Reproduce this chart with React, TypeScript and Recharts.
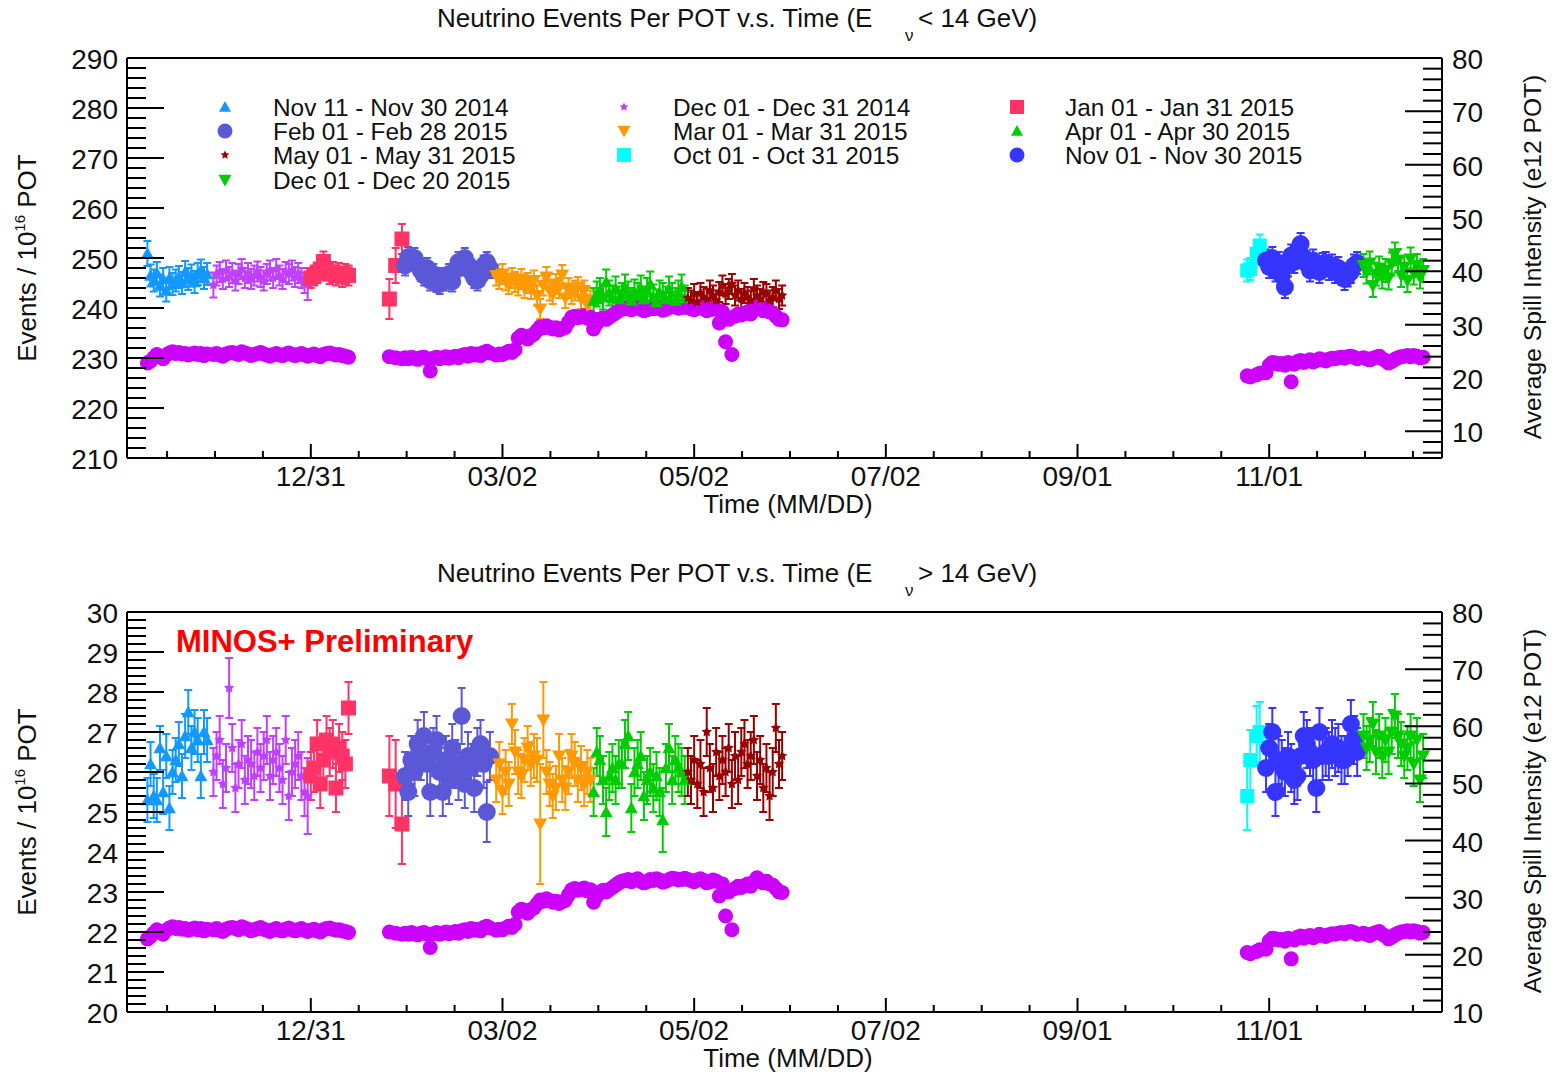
import React from "react";
import { ScatterChart, Scatter, XAxis, YAxis, ErrorBar, ReferenceLine } from "recharts";

// rows: [day since 12/31/2014, events E<14, err, events E>14, err, spill intensity]
type Row = [number, number, number, number, number, number];

const NOV14: Row[] = [
  [-52, 250.9, 2.5, 25.3, 0.55, 22.8],
  [-51, 246.5, 2.2, 26.2, 0.55, 23.2],
  [-50, 245.5, 2.2, 25.4, 0.55, 23.8],
  [-49, 247.0, 2.2, 25.3, 0.55, 24.4],
  [-48, 244.5, 2.2, 26.6, 0.55, 24.1],
  [-47, 245.8, 2.2, 25.5, 0.55, 23.6],
  [-46, 243.5, 2.2, 26.4, 0.55, 24.3],
  [-45, 246.0, 2.2, 25.1, 0.55, 24.7],
  [-44, 244.8, 2.2, 26.0, 0.55, 24.9],
  [-43, 245.5, 2.2, 26.3, 0.55, 24.6],
  [-42, 246.2, 2.2, 26.7, 0.55, 24.8],
  [-41, 245.0, 2.2, 25.9, 0.55, 24.5],
  [-40, 247.2, 2.2, 26.9, 0.55, 24.6],
  [-39, 245.8, 2.2, 27.5, 0.55, 24.3],
  [-38, 246.5, 2.2, 26.6, 0.55, 24.5],
  [-37, 245.2, 2.2, 27.0, 0.55, 24.7],
  [-36, 246.8, 2.2, 26.8, 0.55, 24.4],
  [-35, 247.5, 2.2, 25.9, 0.55, 24.6],
  [-34, 246.0, 2.2, 27.0, 0.55, 24.2],
  [-33, 246.8, 2.2, 26.8, 0.55, 24.5],
];

const DEC14: Row[] = [
  [-31, 244.6, 2.5, 26.0, 0.6, 24.4],
  [-30, 246.5, 2.0, 26.4, 0.6, 24.6],
  [-29, 247.2, 2.0, 26.8, 0.6, 24.3],
  [-28, 245.8, 2.0, 25.7, 0.6, 24.1],
  [-27, 247.5, 2.0, 26.1, 0.6, 24.5],
  [-26, 246.2, 2.0, 28.1, 0.75, 24.7],
  [-25, 247.0, 2.0, 26.6, 0.6, 24.8],
  [-24, 245.5, 2.0, 25.6, 0.6, 24.6],
  [-23, 246.8, 2.0, 26.2, 0.6, 24.4],
  [-22, 247.8, 2.0, 26.7, 0.6, 24.9],
  [-21, 246.0, 2.0, 25.8, 0.6, 24.7],
  [-20, 247.0, 2.0, 26.3, 0.6, 24.5],
  [-19, 245.8, 2.0, 26.2, 0.6, 24.2],
  [-18, 246.5, 2.0, 25.9, 0.6, 24.4],
  [-17, 247.3, 2.0, 26.5, 0.6, 24.6],
  [-16, 246.2, 2.0, 26.1, 0.6, 24.8],
  [-15, 245.5, 2.0, 26.4, 0.6, 24.5],
  [-14, 246.8, 2.0, 26.8, 0.6, 24.3],
  [-13, 247.5, 2.0, 25.9, 0.6, 24.1],
  [-12, 246.0, 2.0, 26.3, 0.6, 24.4],
  [-11, 247.8, 2.0, 26.5, 0.6, 24.6],
  [-10, 246.5, 2.0, 26.1, 0.6, 24.3],
  [-9, 245.8, 2.0, 25.8, 0.6, 24.2],
  [-8, 247.2, 2.0, 26.8, 0.6, 24.5],
  [-7, 246.8, 2.0, 25.4, 0.6, 24.7],
  [-6, 247.5, 2.0, 26.0, 0.6, 24.4],
  [-5, 246.2, 2.0, 26.2, 0.6, 24.2],
  [-4, 247.0, 2.0, 26.4, 0.6, 24.4],
  [-3, 246.0, 2.0, 25.9, 0.6, 24.6],
  [-2, 245.0, 2.0, 25.5, 0.6, 24.3],
  [-1, 244.8, 3.2, 25.4, 0.95, 24.1],
];

const JAN15: Row[] = [
  [0, 246.0, 2.0, 25.9, 0.6, 24.3],
  [1, 246.5, 2.0, 26.1, 0.6, 24.5],
  [2, 247.0, 2.0, 26.7, 0.6, 24.2],
  [3, 247.8, 2.0, 25.7, 0.6, 24.0],
  [4, 249.3, 2.0, 26.3, 0.6, 24.4],
  [5, 247.5, 2.0, 26.8, 0.6, 24.6],
  [6, 246.8, 2.0, 26.5, 0.6, 24.7],
  [7, 247.2, 2.0, 26.7, 0.6, 24.5],
  [8, 246.5, 2.0, 25.6, 0.6, 24.3],
  [9, 247.0, 2.0, 26.6, 0.6, 24.4],
  [10, 246.2, 2.0, 26.4, 0.6, 24.2],
  [11, 246.8, 2.0, 26.2, 0.6, 24.1],
  [12, 246.5, 2.0, 27.6, 0.65, 23.9],
  [25, 241.8, 4.0, 25.9, 1.0, 24.0],
  [27, 248.5, 3.5, 25.7, 1.1, 23.8],
  [29, 253.8, 3.0, 24.7, 1.0, 23.6],
];

const FEB15: Row[] = [
  [30, 248.5, 2.0, 25.9, 0.6, 23.8],
  [31, 250.2, 2.0, 25.5, 0.6, 23.6],
  [32, 249.5, 2.0, 26.3, 0.6, 23.9],
  [33, 250.0, 2.0, 26.0, 0.6, 23.7],
  [34, 248.8, 2.0, 26.7, 0.6, 23.5],
  [35, 247.5, 2.0, 26.4, 0.6, 23.8],
  [36, 246.5, 2.0, 26.9, 0.6, 23.9],
  [37, 248.0, 2.0, 26.2, 0.6, 23.6],
  [38, 245.5, 2.0, 25.5, 0.6, 21.3],
  [39, 246.8, 2.0, 26.5, 0.6, 23.7],
  [40, 245.2, 2.0, 26.8, 0.6, 23.9],
  [41, 244.8, 2.0, 26.0, 0.6, 23.6],
  [42, 246.0, 2.0, 25.5, 0.6, 23.8],
  [43, 245.5, 2.0, 26.3, 0.6, 24.0],
  [44, 246.8, 2.0, 25.8, 0.6, 23.7],
  [45, 245.3, 2.0, 26.6, 0.6, 23.9],
  [46, 247.5, 2.0, 26.2, 0.6, 24.1],
  [47, 249.2, 2.0, 25.9, 0.6, 23.8],
  [48, 248.5, 2.0, 27.4, 0.7, 24.2],
  [49, 250.0, 2.0, 25.7, 0.6, 24.4],
  [50, 248.7, 2.0, 26.4, 0.6, 24.1],
  [51, 247.2, 2.0, 26.1, 0.6, 24.6],
  [52, 246.0, 2.0, 25.6, 0.6, 24.3],
  [53, 245.5, 2.0, 26.5, 0.6, 24.5],
  [54, 246.5, 2.0, 26.7, 0.6, 24.2],
  [55, 248.5, 2.0, 26.2, 0.6, 24.8],
  [56, 249.2, 2.0, 25.0, 0.75, 25.0],
  [57, 248.0, 2.0, 26.4, 0.6, 24.7],
];

const MAR15: Row[] = [
  [59, 246.5, 2.0, 25.8, 0.55, 24.3],
  [60, 245.8, 2.0, 26.2, 0.55, 24.5],
  [61, 246.8, 2.0, 25.5, 0.55, 24.4],
  [62, 245.5, 2.0, 26.0, 0.55, 24.7],
  [63, 244.8, 2.0, 25.7, 0.55, 25.0],
  [64, 246.0, 2.0, 27.2, 0.5, 24.8],
  [65, 245.2, 2.0, 26.5, 0.55, 25.3],
  [66, 244.5, 2.0, 26.0, 0.55, 27.5],
  [67, 245.8, 2.0, 25.9, 0.55, 28.0],
  [68, 244.0, 2.0, 26.3, 0.55, 27.8],
  [69, 245.0, 2.0, 26.6, 0.55, 27.3],
  [70, 243.8, 2.0, 26.2, 0.55, 27.9],
  [71, 245.5, 2.0, 26.4, 0.55, 28.2],
  [72, 242.5, 2.0, 26.3, 0.55, 28.9],
  [73, 239.8, 2.0, 24.7, 1.5, 29.6],
  [74, 244.5, 2.0, 27.3, 0.95, 29.4],
  [75, 246.2, 2.0, 26.0, 0.55, 29.8],
  [76, 243.5, 2.0, 25.7, 0.55, 29.5],
  [77, 242.8, 2.0, 25.4, 0.55, 29.2],
  [78, 244.8, 2.0, 25.6, 0.55, 29.4],
  [79, 244.0, 2.0, 26.4, 0.55, 29.0],
  [80, 246.6, 2.0, 25.8, 0.55, 29.3],
  [81, 242.0, 2.0, 25.6, 0.55, 29.5],
  [82, 244.0, 2.0, 26.0, 0.55, 30.5],
  [83, 242.8, 2.0, 26.4, 0.55, 31.4],
  [84, 243.5, 2.0, 26.2, 0.55, 31.6],
  [85, 244.2, 2.0, 25.8, 0.55, 31.3],
  [86, 241.8, 2.0, 26.1, 0.55, 31.5],
  [87, 243.5, 2.0, 25.7, 0.55, 31.7],
  [88, 240.6, 2.0, 26.0, 0.55, 31.2],
  [89, 241.5, 2.0, 25.8, 0.55, 31.4],
];

const APR15: Row[] = [
  [90, 241.5, 2.5, 25.5, 0.6, 29.2],
  [91, 242.8, 2.5, 26.5, 0.6, 30.2],
  [92, 243.5, 2.5, 26.3, 0.6, 31.0],
  [93, 242.2, 2.5, 25.8, 0.6, 31.3],
  [94, 245.2, 2.5, 25.0, 0.6, 31.0],
  [95, 243.0, 2.5, 25.9, 0.6, 31.4],
  [96, 242.0, 2.5, 26.1, 0.6, 31.8],
  [97, 243.8, 2.5, 25.8, 0.6, 32.2],
  [98, 241.8, 2.5, 26.2, 0.6, 32.6],
  [99, 242.5, 2.5, 26.2, 0.6, 32.9],
  [100, 244.2, 2.5, 26.7, 0.6, 33.0],
  [101, 242.8, 2.5, 26.9, 0.6, 33.2],
  [102, 241.5, 2.5, 25.1, 0.6, 32.8],
  [103, 243.2, 2.5, 26.0, 0.6, 33.1],
  [104, 242.5, 2.5, 26.2, 0.6, 33.3],
  [105, 244.0, 2.5, 26.4, 0.6, 32.9],
  [106, 241.8, 2.5, 25.4, 0.6, 32.6],
  [107, 243.5, 2.5, 25.8, 0.6, 32.8],
  [108, 244.8, 2.5, 26.0, 0.6, 33.2],
  [109, 242.2, 2.5, 25.6, 0.6, 33.0],
  [110, 241.2, 2.5, 25.9, 0.6, 33.3],
  [111, 243.0, 2.5, 25.5, 0.6, 33.1],
  [112, 242.5, 2.5, 24.8, 0.8, 32.7],
  [113, 241.8, 2.5, 26.1, 0.6, 32.9],
  [114, 243.8, 2.5, 26.6, 0.6, 33.2],
  [115, 242.5, 2.5, 25.8, 0.6, 33.4],
  [116, 241.5, 2.5, 26.3, 0.6, 33.3],
  [117, 243.0, 2.5, 26.1, 0.6, 33.1],
  [118, 244.2, 2.5, 26.0, 0.6, 33.2],
  [119, 242.0, 2.5, 25.8, 0.6, 33.4],
];

const MAY15: Row[] = [
  [120, 242.0, 2.0, 26.0, 0.6, 33.2],
  [121, 241.5, 2.0, 25.8, 0.6, 33.0],
  [122, 242.8, 2.0, 26.3, 0.6, 32.8],
  [123, 241.2, 2.0, 25.7, 0.6, 33.1],
  [124, 243.0, 2.0, 26.2, 0.6, 33.3],
  [125, 242.2, 2.0, 25.5, 0.6, 33.0],
  [126, 241.8, 2.0, 27.0, 0.6, 32.6],
  [127, 243.5, 2.0, 26.1, 0.6, 32.8],
  [128, 242.5, 2.0, 25.6, 0.6, 33.1],
  [129, 241.5, 2.0, 26.5, 0.6, 32.9],
  [130, 243.2, 2.0, 25.9, 0.6, 30.3],
  [131, 244.5, 2.0, 26.3, 0.6, 32.4],
  [132, 242.8, 2.0, 26.0, 0.6, 26.8],
  [133, 243.8, 2.0, 26.6, 0.6, 31.0],
  [134, 244.8, 2.0, 25.7, 0.6, 24.4],
  [135, 242.5, 2.0, 26.4, 0.6, 31.6],
  [136, 243.5, 2.0, 25.8, 0.6, 32.0],
  [137, 241.8, 2.0, 26.5, 0.6, 31.8],
  [138, 243.0, 2.0, 26.7, 0.6, 32.1],
  [139, 242.2, 2.0, 26.2, 0.6, 32.4],
  [140, 241.5, 2.0, 26.4, 0.6, 32.0],
  [141, 243.8, 2.0, 26.8, 0.6, 32.8],
  [142, 242.5, 2.0, 25.9, 0.6, 33.5],
  [143, 241.8, 2.0, 26.3, 0.6, 33.0],
  [144, 243.2, 2.0, 25.6, 0.6, 32.6],
  [145, 242.8, 2.0, 26.1, 0.6, 32.9],
  [146, 241.5, 2.0, 25.4, 0.6, 32.4],
  [147, 242.2, 2.0, 26.0, 0.6, 32.2],
  [148, 243.5, 2.0, 27.1, 0.6, 31.6],
  [149, 241.8, 2.0, 26.2, 0.6, 31.0],
  [150, 242.5, 2.0, 26.4, 0.6, 30.9],
];

const OCT15: Row[] = [
  [298, 247.5, 2.2, 25.4, 0.85, 20.4],
  [299, 247.8, 2.2, 26.3, 0.75, 20.2],
  [301, 250.8, 2.2, 26.9, 0.75, 20.6],
  [302, 252.5, 2.2, 27.0, 0.75, 20.9],
];

const NOV15: Row[] = [
  [304, 249.5, 2.2, 26.1, 0.6, 21.0],
  [305, 248.2, 2.2, 26.6, 0.6, 22.4],
  [306, 250.0, 2.2, 27.0, 0.6, 22.9],
  [307, 247.5, 2.2, 25.5, 0.6, 22.8],
  [308, 249.0, 2.2, 26.3, 0.6, 22.6],
  [309, 246.5, 2.2, 26.2, 0.6, 22.7],
  [310, 244.2, 2.2, 26.0, 0.6, 22.4],
  [311, 248.5, 2.2, 26.4, 0.6, 22.9],
  [312, 250.5, 2.2, 26.1, 0.6, 19.3],
  [313, 249.2, 2.2, 25.8, 0.6, 22.6],
  [314, 251.5, 2.2, 25.9, 0.6, 23.1],
  [315, 252.8, 2.2, 26.4, 0.6, 23.3],
  [316, 250.2, 2.2, 26.9, 0.6, 22.9],
  [317, 248.8, 2.2, 26.7, 0.6, 23.2],
  [318, 247.5, 2.2, 26.5, 0.6, 23.4],
  [319, 249.5, 2.2, 26.3, 0.6, 23.0],
  [320, 248.2, 2.2, 25.6, 0.6, 23.3],
  [321, 247.2, 2.2, 27.0, 0.6, 23.6],
  [322, 248.8, 2.2, 26.4, 0.6, 23.4],
  [323, 249.0, 2.2, 26.5, 0.6, 23.2],
  [324, 247.8, 2.2, 26.4, 0.6, 23.5],
  [325, 248.5, 2.2, 26.7, 0.6, 23.7],
  [326, 247.2, 2.2, 26.5, 0.6, 23.6],
  [327, 248.0, 2.2, 26.6, 0.6, 23.8],
  [328, 246.8, 2.2, 26.3, 0.6, 23.9],
  [329, 245.8, 2.2, 26.3, 0.6, 23.7],
  [330, 246.5, 2.2, 26.5, 0.6, 24.0],
  [331, 247.2, 2.2, 27.2, 0.6, 24.1],
  [332, 248.5, 2.2, 26.8, 0.6, 23.9],
  [333, 249.0, 2.2, 26.5, 0.6, 23.6],
];

const DEC15: Row[] = [
  [335, 248.5, 2.3, 26.9, 0.55, 23.8],
  [336, 247.2, 2.3, 26.6, 0.55, 23.6],
  [337, 249.0, 2.3, 26.8, 0.55, 23.4],
  [338, 244.5, 2.3, 27.2, 0.55, 23.7],
  [339, 246.8, 2.3, 26.5, 0.55, 23.9],
  [340, 248.0, 2.3, 26.9, 0.55, 24.1],
  [341, 246.2, 2.3, 26.4, 0.55, 23.6],
  [342, 247.5, 2.3, 26.8, 0.55, 23.3],
  [343, 246.0, 2.3, 26.5, 0.55, 22.8],
  [344, 248.8, 2.3, 27.0, 0.55, 23.1],
  [345, 250.8, 2.3, 27.4, 0.55, 23.5],
  [346, 249.5, 2.3, 26.9, 0.55, 23.8],
  [347, 246.5, 2.3, 26.7, 0.55, 24.0],
  [348, 248.2, 2.3, 26.4, 0.55, 24.1],
  [349, 245.5, 2.3, 26.6, 0.55, 24.2],
  [350, 249.8, 2.3, 26.9, 0.55, 24.0],
  [351, 247.0, 2.3, 26.2, 0.55, 24.2],
  [352, 248.5, 2.3, 26.8, 0.55, 24.1],
  [353, 246.2, 2.3, 25.8, 0.55, 23.8],
  [354, 247.5, 2.3, 26.4, 0.55, 23.9],
];

const X_MAJOR = [0, 61, 122, 183, 244, 305];
const X_LABELS = ["12/31", "03/02", "05/02", "07/02", "09/01", "11/01"];
const X_DOMAIN: [number, number] = [-58.5, 360];

const LOW_LEFT_MAJOR = [210, 220, 230, 240, 250, 260, 270, 280, 290];
const LOW_RIGHT_MAJOR = [10, 20, 30, 40, 50, 60, 70, 80];
const HIGH_LEFT_MAJOR = [20, 21, 22, 23, 24, 25, 26, 27, 28, 29, 30];
const HIGH_RIGHT_MAJOR = [10, 20, 30, 40, 50, 60, 70, 80];

const FONT = "'Liberation Sans', Arial, Helvetica, sans-serif";
const INK = "#111";
const PLOT_LEFT = 127;
const PLOT_RIGHT = 1442;
const PLOT_TOP = 58;
const PLOT_BOTTOM = 458;
const SPILL_COLOR = "#cc00ff";

type Kind = "tri" | "triDown" | "circle" | "square" | "star";

const LEGEND_SIZE: Record<Kind, number> = { tri: 12, triDown: 13, circle: 15, square: 14, star: 9 };

const SERIES: { name: string; rows: Row[]; color: string; kind: Kind; size: number }[] = [
  { name: "Nov 11 - Nov 30 2014", rows: NOV14, color: "#1199ff", kind: "tri", size: 13 },
  { name: "Dec 01 - Dec 31 2014", rows: DEC14, color: "#c040ff", kind: "star", size: 11 },
  { name: "Jan 01 - Jan 31 2015", rows: JAN15, color: "#ff3366", kind: "square", size: 15 },
  { name: "Feb 01 - Feb 28 2015", rows: FEB15, color: "#5b58d8", kind: "circle", size: 18 },
  { name: "Mar 01 - Mar 31 2015", rows: MAR15, color: "#ff9900", kind: "triDown", size: 14 },
  { name: "Apr 01 - Apr 30 2015", rows: APR15, color: "#00cc00", kind: "tri", size: 13 },
  { name: "May 01 - May 31 2015", rows: MAY15, color: "#990000", kind: "star", size: 11 },
  { name: "Oct 01 - Oct 31 2015", rows: OCT15, color: "#00ffff", kind: "square", size: 14 },
  { name: "Nov 01 - Nov 30 2015", rows: NOV15, color: "#3535ff", kind: "circle", size: 18 },
  { name: "Dec 01 - Dec 20 2015", rows: DEC15, color: "#00cc00", kind: "triDown", size: 14 },
];

function Marker({ kind, cx, cy, size, color }: { kind: Kind; cx: number; cy: number; size: number; color: string }) {
  const h = size / 2;
  if (kind === "circle") return <circle cx={cx} cy={cy} r={h} fill={color} />;
  if (kind === "square") return <rect x={cx - h} y={cy - h} width={size} height={size} fill={color} />;
  if (kind === "tri")
    return <polygon points={`${cx},${cy - h} ${cx + h},${cy + h * 0.8} ${cx - h},${cy + h * 0.8}`} fill={color} />;
  if (kind === "triDown")
    return <polygon points={`${cx},${cy + h} ${cx + h},${cy - h * 0.8} ${cx - h},${cy - h * 0.8}`} fill={color} />;
  const pts: string[] = [];
  for (let i = 0; i < 10; i++) {
    const r = i % 2 === 0 ? h : h * 0.5;
    const a = -Math.PI / 2 + (i * Math.PI) / 5;
    pts.push(`${cx + r * Math.cos(a)},${cy + r * Math.sin(a)}`);
  }
  return <polygon points={pts.join(" ")} fill={color} />;
}

// minor ticks every quarter of the 61-day major spacing
const xTicks: number[] = [];
for (let k = -3; k <= 23; k++) {
  const v = k * 15.25;
  if (v > X_DOMAIN[0] && v < X_DOMAIN[1]) xTicks.push(v);
}

function stepTicks(lo: number, hi: number, step: number) {
  const out: number[] = [];
  for (let v = lo; v <= hi + 1e-9; v += step) out.push(Math.round(v * 100) / 100);
  return out;
}

const isMajor = (majors: number[], v: number) => majors.some((m) => Math.abs(m - v) < 1e-6);

function XTick(props: any) {
  const { x, payload } = props;
  const idx = X_MAJOR.indexOf(payload.value);
  const major = idx >= 0;
  return (
    <g>
      <line x1={x} x2={x} y1={PLOT_BOTTOM} y2={PLOT_BOTTOM - (major ? 14 : 7)} stroke="#000" strokeWidth={2} />
      {major && (
        <text x={x} y={PLOT_BOTTOM + 28} textAnchor="middle" fontSize={28} fontFamily={FONT} fill={INK}>
          {X_LABELS[idx]}
        </text>
      )}
    </g>
  );
}

const yTick = (side: "left" | "right", majors: number[]) => (props: any) => {
  const { y, payload } = props;
  const v = payload.value as number;
  const major = isMajor(majors, v);
  const len = major ? 37 : 19;
  const ax = side === "left" ? PLOT_LEFT : PLOT_RIGHT;
  return (
    <g>
      <line x1={ax} x2={side === "left" ? ax + len : ax - len} y1={y} y2={y} stroke="#000" strokeWidth={2} />
      {major && (
        <text
          x={side === "left" ? ax - 9 : ax + 10}
          y={y + 11}
          textAnchor={side === "left" ? "end" : "start"}
          fontSize={28}
          fontFamily={FONT}
          fill={INK}
        >
          {String(Math.round(v))}
        </text>
      )}
    </g>
  );
};

function Panel({ which, top, height }: { which: "low" | "high"; top: number; height: number }) {
  const low = which === "low";
  const leftDomain: [number, number] = low ? [210, 290] : [20, 30];
  const rightDomain: [number, number] = low ? [5, 80] : [10, 80];
  const leftTicks = low ? stepTicks(210, 290, 2) : stepTicks(20, 30, 0.2);
  const rightTicks = low ? stepTicks(6, 80, 2) : stepTicks(10, 80, 2);
  const leftMajor = low ? LOW_LEFT_MAJOR : HIGH_LEFT_MAJOR;
  const rightMajor = low ? LOW_RIGHT_MAJOR : HIGH_RIGHT_MAJOR;
  const spill = SERIES.flatMap((s) => s.rows.map((r) => ({ x: r[0], y: r[5] })));

  return (
    <div style={{ position: "absolute", left: 0, top, width: 1557, height }}>
      <ScatterChart
        width={1557}
        height={height}
        margin={{ top: PLOT_TOP, right: 1557 - PLOT_RIGHT - 60, bottom: height - PLOT_BOTTOM - 60, left: PLOT_LEFT - 60 }}
      >
        <XAxis
          type="number"
          dataKey="x"
          domain={X_DOMAIN}
          allowDataOverflow
          ticks={xTicks}
          interval={0}
          tickSize={0}
          tickMargin={0}
          tickLine={false}
          axisLine={{ stroke: "#000", strokeWidth: 2 }}
          tick={<XTick />}
          height={60}
        />
        <YAxis
          yAxisId="left"
          type="number"
          dataKey="y"
          domain={leftDomain}
          allowDataOverflow
          ticks={leftTicks}
          interval={0}
          tickSize={0}
          tickMargin={0}
          tickLine={false}
          axisLine={{ stroke: "#000", strokeWidth: 2 }}
          tick={yTick("left", leftMajor)}
          width={60}
        />
        <YAxis
          yAxisId="right"
          orientation="right"
          type="number"
          dataKey="y"
          domain={rightDomain}
          allowDataOverflow
          ticks={rightTicks}
          interval={0}
          tickSize={0}
          tickMargin={0}
          tickLine={false}
          axisLine={{ stroke: "#000", strokeWidth: 2 }}
          tick={yTick("right", rightMajor)}
          width={60}
        />
        <ReferenceLine yAxisId="left" y={leftDomain[1]} stroke="#000" strokeWidth={2} ifOverflow="visible" />
        <Scatter
          yAxisId="right"
          data={spill}
          isAnimationActive={false}
          shape={(p: any) => <Marker kind="circle" cx={p.cx} cy={p.cy} size={15} color={SPILL_COLOR} />}
        />
        {SERIES.map((s) => (
          <Scatter
            key={s.name}
            yAxisId="left"
            data={s.rows.map((r) => ({ x: r[0], y: low ? r[1] : r[3], e: low ? r[2] : r[4] }))}
            isAnimationActive={false}
            shape={(p: any) => <Marker kind={s.kind} cx={p.cx} cy={p.cy} size={s.size} color={s.color} />}
          >
            <ErrorBar dataKey="e" direction="y" width={4} stroke={s.color} strokeWidth={2} />
          </Scatter>
        ))}
      </ScatterChart>
    </div>
  );
}

const LEGEND_COLS = [225, 624, 1017];
const LEGEND_TEXT_X = [273, 673, 1065];
const LEGEND_ROWS = [107, 131, 155, 180];

function Overlay() {
  const title = (dy: number, sign: string) => (
    <g>
      <text x={437} y={27 + dy} fontSize={26} fontFamily={FONT} fill={INK}>
        Neutrino Events Per POT v.s. Time (E
      </text>
      <text x={905} y={41 + dy} fontSize={17} fontFamily={FONT} fill={INK}>
        ν
      </text>
      <text x={918} y={27 + dy} fontSize={26} fontFamily={FONT} fill={INK}>
        {sign} 14 GeV)
      </text>
    </g>
  );
  const axisTitles = (dy: number) => (
    <g fontFamily={FONT} fill={INK}>
      <text x={788} y={513 + dy} textAnchor="middle" fontSize={26}>
        Time (MM/DD)
      </text>
      <text transform="rotate(-90)" x={-(258 + dy)} y={36} textAnchor="middle" fontSize={26}>
        Events / 10
        <tspan dy={-11} fontSize={15}>
          16
        </tspan>
        <tspan dy={11}> POT</tspan>
      </text>
      <text transform="rotate(-90)" x={-(257 + dy)} y={1541} textAnchor="middle" fontSize={24.6}>
        Average Spill Intensity (e12 POT)
      </text>
    </g>
  );
  return (
    <svg
      width={1557}
      height={1072}
      style={{ position: "absolute", left: 0, top: 0, pointerEvents: "none" }}
    >
      {title(0, "<")}
      {title(555, ">")}
      {axisTitles(0)}
      {axisTitles(554)}
      {SERIES.map((s, i) => {
        const col = i % 3;
        const row = Math.floor(i / 3);
        const cy = LEGEND_ROWS[row];
        return (
          <g key={s.name}>
            <Marker kind={s.kind} cx={LEGEND_COLS[col]} cy={cy} size={LEGEND_SIZE[s.kind]} color={s.color} />
            <text x={LEGEND_TEXT_X[col]} y={cy + 9} fontSize={24.4} fontFamily={FONT} fill={INK}>
              {s.name}
            </text>
          </g>
        );
      })}
      <text x={176} y={652} fontSize={31} fontWeight="bold" fontFamily={FONT} fill="#ff0000">
        MINOS+ Preliminary
      </text>
    </svg>
  );
}

export default function App() {
  return (
    <div
      style={{
        position: "absolute",
        left: 0,
        top: 0,
        width: 1557,
        height: 1072,
        overflow: "hidden",
        background: "#fff",
      }}
    >
      <Panel which="low" top={0} height={536} />
      <Panel which="high" top={554} height={518} />
      <Overlay />
    </div>
  );
}
